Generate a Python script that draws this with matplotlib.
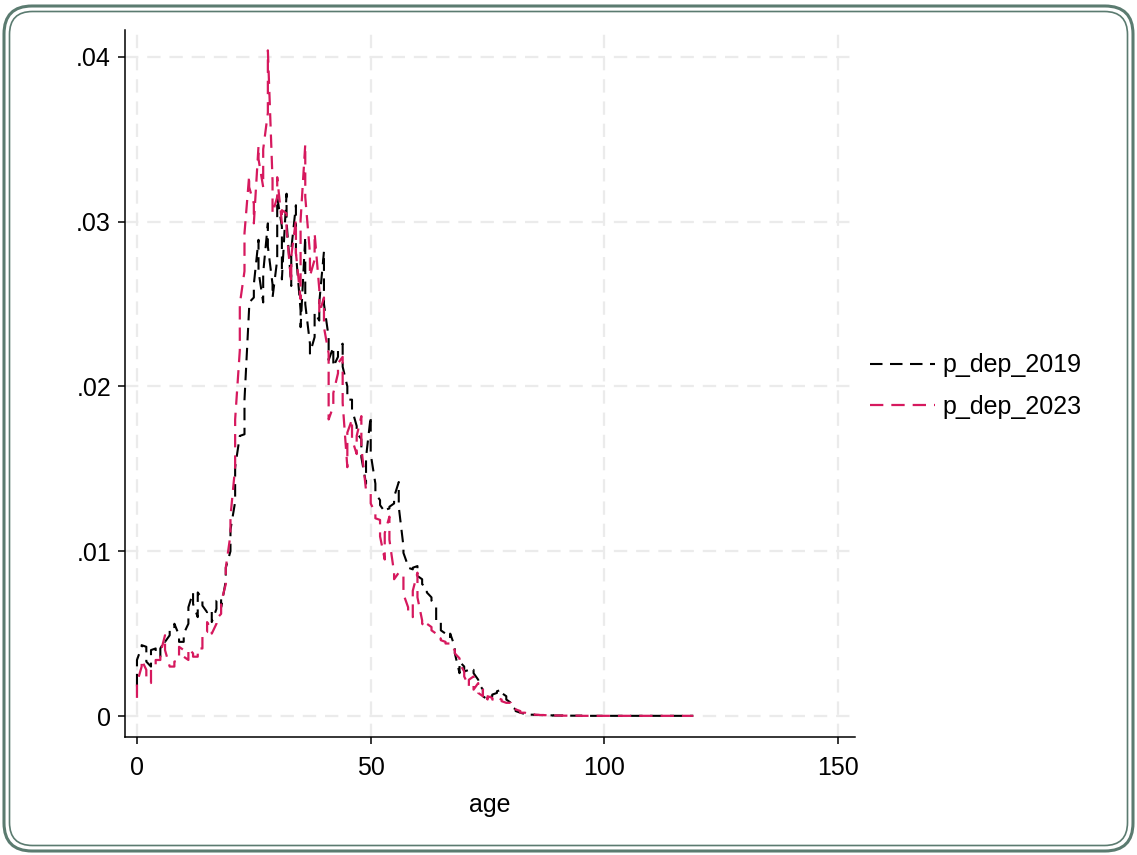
import matplotlib
matplotlib.use("Agg")
import matplotlib.pyplot as plt
import numpy as np
from matplotlib.patches import FancyBboxPatch
from matplotlib.transforms import IdentityTransform

plt.rcParams['font.family'] = ['Liberation Sans Narrow', 'Liberation Sans', 'DejaVu Sans']

# two rows per age in the data set, kept in file order (no sort)
age = np.repeat(np.arange(0, 120), 2)

p_dep_2019 = [
    .0018, .0034, .0042, .0043, .0042, .0033, .0030, .0040, .0041, .0038,
    .0036, .0041, .0046, .0045, .0049, .0052, .0052, .0056, .0049, .0045,
    .0045, .0050, .0056, .0066, .0075, .0068, .0060, .0075, .0071, .0067,
    .0063, .0064, .0064, .0057, .0065, .0070, .0072, .0066, .0082, .0090,
    .0100, .0113, .0130, .0151, .0170, .0170, .0171, .0192, .0248, .0251,
    .0254, .0262, .0289, .0270, .0251, .0269, .0299, .0285, .0262, .0254,
    .0277, .0315, .0297, .0265, .0317, .0300, .0261, .0283, .0310, .0281,
    .0246, .0236, .0291, .0250, .0226, .0220, .0230, .0245, .0240, .0251,
    .0282, .0250, .0230, .0216, .0224, .0212, .0218, .0222, .0226, .0212,
    .0200, .0192, .0192, .0186, .0176, .0172, .0168, .0157, .0141, .0157,
    .0182, .0159, .0141, .0135, .0131, .0128, .0124, .0125, .0126, .0127,
    .0129, .0133, .0142, .0127, .0103, .0099, .0091, .0090, .0089, .0090,
    .0091, .0085, .0083, .0080, .0078, .0075, .0072, .0070, .0066, .0058,
    .0058, .0052, .0050, .0048, .0048, .0050, .0042, .0038, .0026, .0033,
    .0030, .0027, .0028, .0027, .0028, .0026, .0022, .0020, .0016, .0012,
    .0010, .0011, .0012, .0013, .0014, .0015, .0016, .0014, .0012, .0010,
    .0008, .0006, .0004, .0003, .0002, .0002, .00012, .0001, .0001, .00008,
    .00008, .00007, .00006, .00006, .00005, .00005, .00004, .00004, .00004, .00003,
    .00003, .00003, .00003, .00002, .00002, .00002, .00002, .00002, .00002, .00002,
    .00002, .00001, .00001, .00001, .00001, .00001, .00001, .00001, .00001, .00001,
    .00001, .00001, .00001, .00001, .00001, .00001, .00001, .00001, .00001, .00001,
    .00001, .00001, .00001, .00001, .00001, .00001, .00001, .00001, .00001, .00001,
    .00001, .00001, .00001, .00001, .00001, .00001, .00001, .00001, .00001, .00001,
    .00001, .00001, .00001, .00001, .00001, .00001, .00001, .00001, .00001, .00001,
]

p_dep_2023 = [
    .0011, .0020, .0030, .0034, .0028, .0024, .0020, .0028, .0030, .0034,
    .0034, .0038, .0049, .0040, .0030, .0030, .0030, .0033, .0034, .0042,
    .0040, .0036, .0034, .0041, .0038, .0036, .0036, .0041, .0041, .0050,
    .0051, .0057, .0052, .0050, .0056, .0059, .0062, .0069, .0080, .0090,
    .0110, .0121, .0151, .0180, .0222, .0250, .0270, .0293, .0328, .0321,
    .0311, .0299, .0346, .0338, .0321, .0344, .0366, .0404, .0325, .0305,
    .0315, .0327, .0299, .0307, .0305, .0295, .0263, .0279, .0301, .0281,
    .0253, .0301, .0347, .0315, .0281, .0267, .0277, .0293, .0259, .0244,
    .0254, .0236, .0220, .0180, .0188, .0196, .0208, .0214, .0218, .0190,
    .0151, .0172, .0180, .0168, .0159, .0170, .0182, .0163, .0137, .0137,
    .0135, .0129, .0123, .0120, .0119, .0109, .0095, .0111, .0121, .0107,
    .0087, .0083, .0087, .0086, .0085, .0074, .0066, .0063, .0060, .0076,
    .0087, .0072, .0058, .0056, .0054, .0056, .0054, .0052, .0050, .0048,
    .0047, .0046, .0045, .0044, .0044, .0042, .0040, .0038, .0035, .0032,
    .0027, .0024, .0018, .0022, .0024, .0016, .0020, .0014, .0012, .0016,
    .0010, .0012, .0011, .0010, .0010, .0011, .0010, .0009, .0008, .0008,
    .0008, .0006, .0004, .0004, .0003, .0002, .0002, .0002, .0001, .0001,
    .00009, .00008, .00007, .00006, .00006, .00005, .00005, .00004, .00004, .00003,
    .00003, .00003, .00003, .00002, .00002, .00002, .00002, .00002, .00002, .00002,
    .00002, .00001, .00001, .00001, .00001, .00001, .00001, .00001, .00001, .00001,
    .00001, .00001, .00001, .00001, .00001, .00001, .00001, .00001, .00001, .00001,
    .00001, .00001, .00001, .00001, .00001, .00001, .00001, .00001, .00001, .00001,
    .00001, .00001, .00001, .00001, .00001, .00001, .00001, .00001, .00001, .00001,
    .00001, .00001, .00001, .00001, .00001, .00001, .00001, .00001, .00001, .00001,
]

x_ticks = [0, 50, 100, 150]
y_ticks = [0, .01, .02, .03, .04]
y_labels = ['0', '.01', '.02', '.03', '.04']

fig = plt.figure(figsize=(11.37, 8.55), dpi=100)
ax = fig.add_axes([0.1099, 0.138, 0.6421, 0.827])

dash = (0, (6, 3.6))
ax.plot(age, p_dep_2019, color='black', linewidth=1.5, linestyle=dash, label='p_dep_2019')
ax.plot(age, p_dep_2023, color='#d6195e', linewidth=1.6, linestyle=dash, label='p_dep_2023')

ax.set_xlim(-2.57, 153.6)
ax.set_ylim(-0.001275, 0.04164)
ax.set_xticks(x_ticks)
ax.set_yticks(y_ticks)
ax.set_yticklabels(y_labels)
ax.grid(True, color='#ebebeb', linewidth=1.6, linestyle=(0, (6, 4)))
ax.set_axisbelow(True)
for s in ['top', 'right']:
    ax.spines[s].set_visible(False)
for s in ['left', 'bottom']:
    ax.spines[s].set_linewidth(1.1)
ax.tick_params(axis='both', length=5, width=1.1, labelsize=18, direction='out')
ax.tick_params(axis='x', pad=9)
ax.tick_params(axis='y', pad=5)
ax.set_xlabel('age', fontsize=18, labelpad=9)

fig.legend(loc='center left', bbox_to_anchor=(0.765, 0.5485), frameon=False,
           fontsize=18, handlelength=2.6, handletextpad=0.3, labelspacing=0.7,
           borderpad=0, borderaxespad=0)

# rounded double border around the graph region
edge = '#5b7b70'
fig.add_artist(FancyBboxPatch((4, 4), 1129, 845, boxstyle='round,pad=0,rounding_size=28',
                              transform=IdentityTransform(), fill=False,
                              edgecolor=edge, linewidth=2.2))
fig.add_artist(FancyBboxPatch((9.5, 9.5), 1118, 834, boxstyle='round,pad=0,rounding_size=23',
                              transform=IdentityTransform(), fill=False,
                              edgecolor=edge, linewidth=1.2))

fig.savefig('out.png', dpi=100)
